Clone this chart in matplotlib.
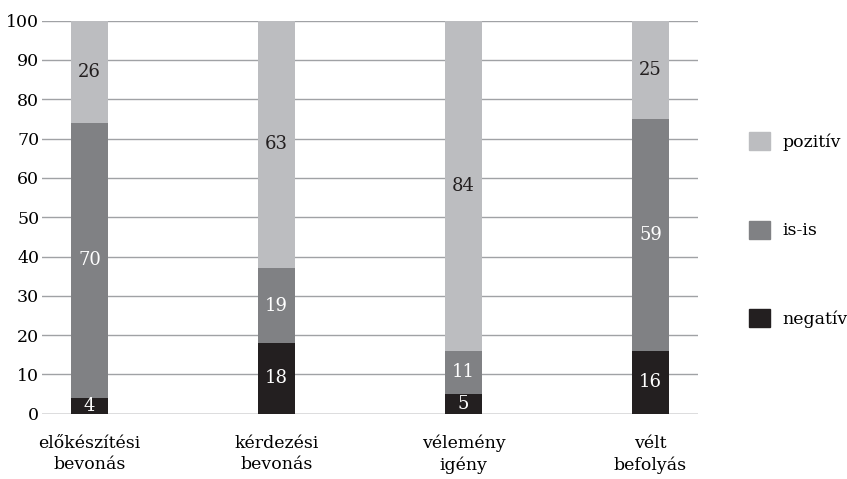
import matplotlib
matplotlib.use("Agg")
import matplotlib.pyplot as plt
from matplotlib.patches import Patch
import numpy as np

categories = ["előkészítési\nbevonás", "kérdezési\nbevonás", "vélemény\nigény", "vélt\nbefolyás"]
negativ = [4, 18, 5, 16]
isis = [70, 19, 11, 59]
pozitiv = [26, 63, 84, 25]
series_names = ["negatív", "is-is", "pozitív"]
yticks = list(range(0, 101, 10))

c_neg = "#231f20"
c_mid = "#808184"
c_pos = "#bcbdc0"
grid_c = "#a0a2a5"

plt.rcParams["font.family"] = ["DejaVu Serif"]
plt.rcParams["font.size"] = 12

fig = plt.figure(figsize=(8.47, 4.79), dpi=100)
ax = fig.add_axes([42 / 847, 1 - 413.7 / 479, (698 - 42) / 847, (413.7 - 20.7) / 479])

x = np.arange(len(categories))
w = 0.2
neg = np.array(negativ)
mid = np.array(isis)
pos = np.array(pozitiv)

b1 = ax.bar(x, neg, w, color=c_neg, zorder=3)
b2 = ax.bar(x, mid, w, bottom=neg, color=c_mid, zorder=3)
b3 = ax.bar(x, pos, w, bottom=neg + mid, color=c_pos, zorder=3)

for bars, vals, bottoms, tc in [(b1, neg, np.zeros_like(neg), "white"),
                                (b2, mid, neg, "white"),
                                (b3, pos, neg + mid, "#231f20")]:
    for xi, v, b in zip(x, vals, bottoms):
        ax.text(xi, b + v / 2, str(v), ha="center", va="center", color=tc,
                fontsize=13, zorder=4)

ax.set_xlim(-0.254, 3.254)
ax.set_ylim(0, 100)
ax.set_yticks(yticks)
ax.set_xticks(x)
ax.set_xticklabels(categories, linespacing=1.35)
for s in ax.spines.values():
    s.set_visible(False)
ax.yaxis.grid(True, color=grid_c, linewidth=1.0, zorder=0)
ax.tick_params(axis="y", length=0, pad=2, labelsize=12.5)
ax.tick_params(axis="x", length=0, pad=15, labelsize=12.5)
ax.axhline(0, color=grid_c, linewidth=1.0, zorder=2)

handles = [Patch(color=c_pos, label=series_names[2]),
           Patch(color=c_mid, label=series_names[1]),
           Patch(color=c_neg, label=series_names[0])]
fig.legend(handles=handles, loc="center left", bbox_to_anchor=(749 / 847, 1 - 230 / 479),
           frameon=False, handlelength=1.21, handleheight=1.21, labelspacing=4.0,
           handletextpad=0.7, borderpad=0, borderaxespad=0, fontsize=12.5)

fig.savefig("out.png", dpi=100)
